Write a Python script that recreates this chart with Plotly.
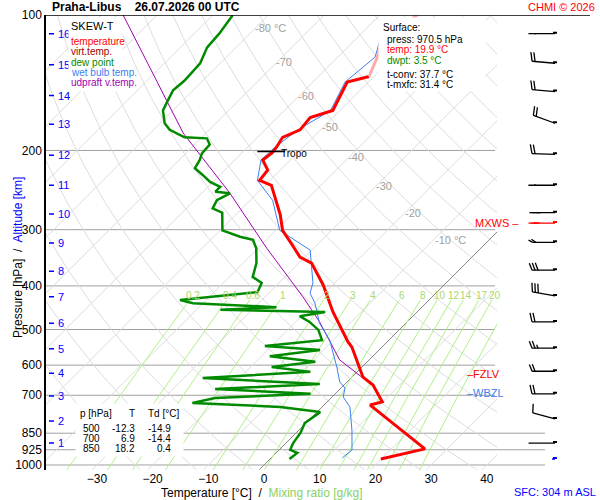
import numpy as np
import plotly.graph_objects as go

temp_p = [970, 926, 921, 736, 724, 664, 638, 547, 533, 457, 437, 398, 356, 345, 324, 301, 278, 258, 239, 233,
          221, 210, 202, 197, 187, 180, 169, 163, 141, 137, 124, 115, 100]
temp_T = [19.9, 25.3, 26.0, 8.3, 9.9, 5.2, 2.0, -5.4, -7.0, -15.1, -17.2, -21.7, -27.7, -30.9, -34.5, -38.8, -42.0,
          -45.4, -48.9, -51.9, -52.3, -55.0, -54.6, -54.8, -55.5, -53.7, -54.1, -51.3, -53.8, -50.9, -52.9, -54.9, -53.3]

dew_p = [100, 110, 118, 128, 140, 147, 155, 163, 174, 180, 187, 188, 194, 203, 210, 219, 227, 235, 241, 247,
         249, 258, 269, 275, 301, 311, 316, 330, 356, 382, 394, 413, 430, 437, 446, 452, 457, 467, 481, 501,
         528, 544, 555, 573, 590, 606, 621, 641, 661, 678, 695, 710, 728, 743, 763, 782, 807, 849, 894, 926,
         940, 970]
dew_T = [-86.4, -85.5, -85.2, -83.6, -83.3, -83.6, -82.7, -81.8, -79.2, -77.1, -73.1, -68.9, -67.3, -67.1, -66.3,
         -65.7, -63.0, -60.5, -57.8, -57.8, -54.9, -56.0, -55.3, -52.8, -49.6, -45.3, -42.4, -40.3, -37.6, -35.8,
         -33.1, -32.2, -44.7, -41.8, -26.1, -35.7, -16.5, -20.3, -17.5, -14.5, -12.0, -21.2, -10.6, -18.5, -9.3,
         -16.2, -8.4, -26.6, -4.5, -22.4, -4.4, -20.8, -24.0, -7.5, 0.6, 0.2, -0.2, 0.8, 1.3, 2.0, 3.8, 3.5]

wb_p = [115, 124, 141, 163, 180, 197, 210, 233, 258, 301, 333, 394, 415, 437, 484, 509, 528, 555, 606, 654,
        674, 706, 743, 836, 926, 965]
wb_T = [-55.2, -53.3, -54.2, -51.7, -54.1, -55.1, -55.3, -52.3, -46.0, -39.3, -30.3, -23.9, -22.6, -19.9, -15.5,
        -12.7, -10.6, -8.4, -4.5, -1.3, 0.7, 2.0, 5.0, 9.5, 13.1, 12.8]

upd_p = [664, 584, 481, 423, 330, 249, 183, 100]
upd_T = [5.0, -5.3, -15.7, -23.2, -38.4, -54.9, -74.1, -106.1]

wind_p = [110, 128, 148, 174, 204, 239, 275, 320, 369, 421, 481, 550, 619, 695, 790, 894]
wind_dir = [250, 275, 275, 290, 272, 250, 235, 255, 265, 280, 270, 265, 265, 270, 285, 245]
wind_kt = [15, 20, 20, 20, 20, 15, 25, 20, 30, 30, 20, 25, 20, 20, 10, 10]
mxws = (290, 245, 30)

alt_km = list(range(1, 17))
alt_p = [894, 798, 703, 625, 552, 484, 423, 371, 321, 277, 239, 205, 175, 151, 129, 110]

p_levels = [100, 200, 300, 400, 500, 600, 700, 850, 925, 1000]
t_ticks = [-30, -20, -10, 0, 10, 20, 30, 40]
mix_w = [0.2, 0.4, 0.6, 1, 2, 3, 4, 6, 8, 10, 12, 14, 17, 20, 25]
iso_labels = ['-80 °C', '-70', '-60', '-50', '-40', '-30', '-20', '-10 °C']

SKEW = 80.8
FONT = 'Liberation Sans'


def sx(T, p):
    return np.asarray(T) + SKEW * np.log10(1000.0 / np.asarray(p, dtype=float))


W, H = 600, 500
def px(x): return x / W
def py(y): return (H - y) / H

fig = go.Figure()
pp = np.logspace(np.log10(1060), 2, 80)

# dry adiabats
for th in range(250, 481, 10):
    T = th * (pp / 1000.0) ** 0.286 - 273.15
    fig.add_trace(go.Scatter(x=sx(T, pp), y=pp, mode='lines', line=dict(color='#dcdcdc', width=1), hoverinfo='skip'))
# isotherms
for t in range(-120, 50, 10):
    fig.add_trace(go.Scatter(x=sx(np.full(2, t), [1060, 100]), y=[1060, 100], mode='lines',
                             line=dict(color='#888888' if t == 0 else '#dcdcdc', width=1), hoverinfo='skip'))
# mixing ratio lines
pm = np.logspace(np.log10(1060), np.log10(430), 30)
for w in mix_w:
    e = w * pm / (622 + w)
    l = np.log(e / 6.112)
    td = 243.5 * l / (17.67 - l)
    fig.add_trace(go.Scatter(x=sx(td, pm), y=pm, mode='lines', line=dict(color='#aef08a', width=1), hoverinfo='skip'))
    e = w * 420 / (622 + w)
    l = np.log(e / 6.112)
    fig.add_annotation(x=float(sx(243.5 * l / (17.67 - l), 420)), y=np.log10(420), text=str(w), showarrow=False,
                       font=dict(family=FONT, size=10, color='#a8d86a'))

# profiles
fig.add_trace(go.Scatter(x=sx(upd_T, upd_p), y=upd_p, mode='lines', line=dict(color='#a000b0', width=1)))
fig.add_trace(go.Scatter(x=sx(wb_T, wb_p), y=wb_p, mode='lines', line=dict(color='#3a80f0', width=1)))
fig.add_trace(go.Scatter(x=sx(dew_T, dew_p), y=dew_p, mode='lines', line=dict(color='#008a00', width=2.5)))
fig.add_trace(go.Scatter(x=sx(temp_T[:-3], temp_p[:-3]), y=temp_p[:-3], mode='lines', line=dict(color='#ff0000', width=3)))
fig.add_trace(go.Scatter(x=sx(temp_T[-4:], temp_p[-4:]), y=temp_p[-4:], mode='lines', line=dict(color='#ffaaaa', width=3)))

shapes = []
for p in p_levels[1:]:
    x1 = 545 if p >= 850 else 495
    shapes.append(dict(type='line', xref='paper', yref='y', x0=px(46), x1=px(x1), y0=p, y1=p,
                       line=dict(color='#a0a0a0', width=1), layer='below'))
shapes.append(dict(type='line', xref='paper', yref='y', x0=px(46), x1=px(590), y0=100, y1=100, line=dict(color='black', width=1.5)))
# tropopause
shapes.append(dict(type='line', xref='x', yref='y', x0=float(sx(-57.5, 201)), x1=float(sx(-52.5, 201)), y0=201, y1=201,
                   line=dict(color='black', width=1.5)))
# altitude ticks
for k, p in zip(alt_km, alt_p):
    shapes.append(dict(type='line', xref='paper', yref='y', x0=px(49), x1=px(54), y0=p, y1=p, line=dict(color='blue', width=1.5)))
    fig.add_annotation(xref='paper', x=px(56), y=np.log10(p), text=str(k), showarrow=False, xanchor='left',
                       font=dict(family=FONT, size=11, color='blue'))


def barb(p, d, s, color='black'):
    # pixel offsets, y upward
    L = 23
    r = np.radians(d)
    u = np.array([np.sin(r), np.cos(r)])
    perp = np.array([u[1], -u[0]])
    if perp[1] < 0:
        perp = -perp
    out = [dict(type='line', x0=0, y0=0, x1=L * u[0], y1=L * u[1])]
    pos = L
    n_full, half = divmod(int(s + 2) // 5, 2)
    for i in range(n_full):
        b = u * pos
        out.append(dict(type='line', x0=b[0], y0=b[1], x1=b[0] + 9 * perp[0] + 2 * u[0], y1=b[1] + 9 * perp[1] + 2 * u[1]))
        pos -= 3
    if half:
        b = u * pos
        out.append(dict(type='line', x0=b[0], y0=b[1], x1=b[0] + 5 * perp[0] + 1 * u[0], y1=b[1] + 5 * perp[1] + 1 * u[1]))
    for o in out:
        o.update(xref='paper', xsizemode='pixel', xanchor=px(555), yref='y', ysizemode='pixel', yanchor=p,
                 line=dict(color=color, width=1.3))
        shapes.append(o)
    shapes.append(dict(type='rect', xref='paper', xsizemode='pixel', xanchor=px(555), yref='y', ysizemode='pixel',
                       yanchor=p, x0=-2, x1=2, y0=-2, y1=2, fillcolor=color, line=dict(width=0)))


for p, d, s in zip(wind_p, wind_dir, wind_kt):
    barb(p, d, s)
barb(*mxws, color='red')
# surface marker
shapes.append(dict(type='line', xref='paper', xsizemode='pixel', xanchor=px(555), yref='y', ysizemode='pixel', yanchor=970,
                   x0=0, y0=0, x1=-3, y1=-25, line=dict(color='blue', width=1.5)))
shapes.append(dict(type='rect', xref='paper', xsizemode='pixel', xanchor=px(555), yref='y', ysizemode='pixel', yanchor=970,
                   x0=-2, x1=2, y0=-2, y1=2, fillcolor='blue', line=dict(width=0)))


def txt(x, y, s, color='black', size=11, anchor='left', **kw):
    fig.add_annotation(xref='paper', yref='paper', x=px(x), y=py(y), text=s, showarrow=False, xanchor=anchor,
                       yanchor='middle', font=dict(family=FONT, size=size, color=color), **kw)


def box(x0, y0, x1, y1):
    fig.add_annotation(xref='paper', yref='paper', x=px(x0), y=py(y0), text=' ', showarrow=False, xanchor='left',
                       yanchor='top', width=x1 - x0, height=y1 - y0, bgcolor='white', borderpad=0)


box(68, 17, 121, 90)
box(378, 17, 484, 90)
box(75, 403, 182, 455)

txt(50, 7, '<b>Praha-Libus    26.07.2026 00 UTC</b>', size=12)
txt(597, 7, 'CHMI © 2026', color='red', anchor='right')
txt(69, 26, 'SKEW-T', size=11)
for i, (s, c) in enumerate([('temperature', 'red'), ('virt.temp.', '#a00000'), ('dew point', '#008a00'),
                            ('wet bulb temp.', '#3a80f0'), ('udpraft v.temp.', '#a000b0')]):
    txt(69, 42 + 10 * i, s, color=c, size=10)
txt(381, 27, 'Surface:', size=10)
txt(385, 40, 'press: 970.5 hPa', size=10)
txt(385, 50, 'temp: 19.9 °C', color='red', size=10)
txt(385, 60, 'dwpt: 3.5 °C', color='#008a00', size=10)
txt(385, 74, 't-conv: 37.7 °C', size=10)
txt(385, 84, 't-mxfc: 31.4 °C', size=10)
txt(78, 413, 'p [hPa]', size=10)
txt(127, 413, 'T', size=10)
txt(146, 413, 'Td [°C]', size=10)
for i, row in enumerate([('500', '-12.3', '-14.9'), ('700', '6.9', '-14.4'), ('850', '18.2', '0.4')]):
    txt(102, 428 + 10 * i, row[0], size=10, anchor='right')
    txt(137, 428 + 10 * i, row[1], size=10, anchor='right')
    txt(173, 428 + 10 * i, row[2], size=10, anchor='right')
txt(279, 153, 'Tropo', size=10)
for s, (x, y) in zip(iso_labels, [(253, 28), (274, 62), (296, 96), (320, 127), (346, 157), (374, 186), (403, 213), (433, 240)]):
    txt(x, y, s, color='#a0a0a0', size=11)
txt(521, 223, 'MXWS –', color='red', anchor='right')
txt(465, 374, '–FZLV', color='red', size=11)
txt(465, 393, '–WBZL', color='#3a80f0', size=11)
txt(555, 492, 'SFC: 304 m ASL', color='blue', anchor='center')
txt(262, 493, 'Temperature [°C]  /  <span style="color:#8ad060">Mixing ratio [g/kg]</span>', anchor='center', size=12)
fig.add_annotation(xref='paper', yref='paper', x=px(9), y=py(258), text='Pressure [hPa]  /  <span style="color:blue">Altitude [km]</span>',
                   showarrow=False, textangle=-90, font=dict(family=FONT, size=12, color='black'))

fig.update_layout(
    width=W, height=H, margin=dict(l=0, r=0, t=0, b=0, pad=0, autoexpand=False), showlegend=False,
    plot_bgcolor='white', paper_bgcolor='white', shapes=shapes,
    xaxis=dict(domain=[px(46), px(497)], range=[-39.14, 41.83], showgrid=False, zeroline=False, automargin=False,
               tickvals=t_ticks, ticks='', tickfont=dict(family=FONT, size=12, color='black')),
    yaxis=dict(domain=[py(469.8), py(15)], type='log', range=[np.log10(1025), 2], showgrid=False, automargin=False,
               tickvals=p_levels, ticktext=[str(p) for p in p_levels], ticks='', showline=True,
               linecolor='black', linewidth=1.5, tickfont=dict(family=FONT, size=12, color='black')),
)
fig.write_html('out.html', config={'displayModeBar': False},
               post_script="document.body.style.margin='0';document.body.style.overflow='hidden';")
